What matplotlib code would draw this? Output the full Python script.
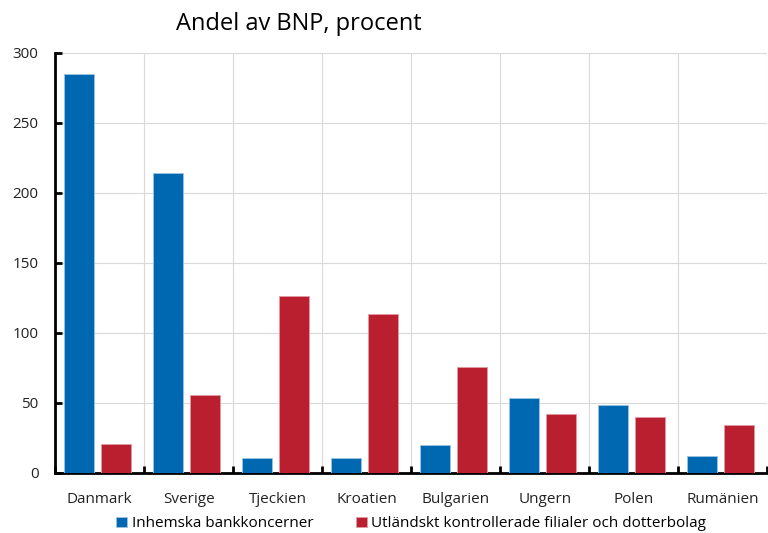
import numpy as np
import matplotlib.pyplot as plt

# data
countries = ['Danmark', 'Sverige', 'Tjeckien', 'Kroatien', 'Bulgarien', 'Ungern', 'Polen', 'Rumänien']
domestic = [285, 214, 11, 11, 20, 53.5, 48.5, 12]
foreign = [21, 55.5, 126.5, 113.5, 75.5, 42, 40, 34.5]
yticks = [0, 50, 100, 150, 200, 250, 300]

blue = '#0068B1'
red = '#BA1F2F'

plt.rcParams['font.family'] = ['Open Sans', 'DejaVu Sans']

fig = plt.figure(figsize=(7.68, 5.33), dpi=100)
ax = fig.add_axes([0.072, 0.1126, 0.927, 0.788])

x = np.arange(len(countries))
w = 0.34
ax.bar(x - 0.235, domestic, w, color=blue, edgecolor='#9cc3e4', linewidth=0.6, zorder=3,
       label='Inhemska bankkoncerner')
ax.bar(x + 0.185, foreign, w, color=red, edgecolor='#e39aa2', linewidth=0.6, zorder=3,
       label='Utländskt kontrollerade filialer och dotterbolag')

ax.set_xlim(-0.5, len(countries) - 0.5)
ax.set_ylim(0, 300)
ax.set_yticks(yticks)
ax.set_xticks(x)
ax.set_xticklabels(countries)
ax.set_xticks(np.arange(len(countries) + 1) - 0.5, minor=True)

ax.grid(axis='y', color='#d9d9d9', linewidth=0.8, zorder=0)
ax.grid(axis='x', which='minor', color='#d9d9d9', linewidth=0.8, zorder=0)

for s in ['top', 'right']:
    ax.spines[s].set_visible(False)
for s in ['left', 'bottom']:
    ax.spines[s].set_linewidth(2)
    ax.spines[s].set_color('black')

ax.tick_params(axis='y', direction='in', length=5, width=2, labelsize=11, pad=12, colors='black')
ax.tick_params(axis='x', which='major', length=0, labelsize=11, pad=14)
ax.tick_params(axis='x', which='minor', direction='in', length=5, width=2)
for lbl in ax.get_yticklabels() + ax.get_xticklabels():
    lbl.set_color('#222222')

fig.text(0.389, 0.955, 'Andel av BNP, procent', fontsize=17, ha='center', va='center')

ax.legend(loc='upper center', bbox_to_anchor=(0.50, -0.078), ncol=2, frameon=False,
          fontsize=11, handlelength=0.7, handleheight=0.7, handletextpad=0.3, columnspacing=2.8,
          borderpad=0.2)

fig.savefig('out.png', dpi=100)
